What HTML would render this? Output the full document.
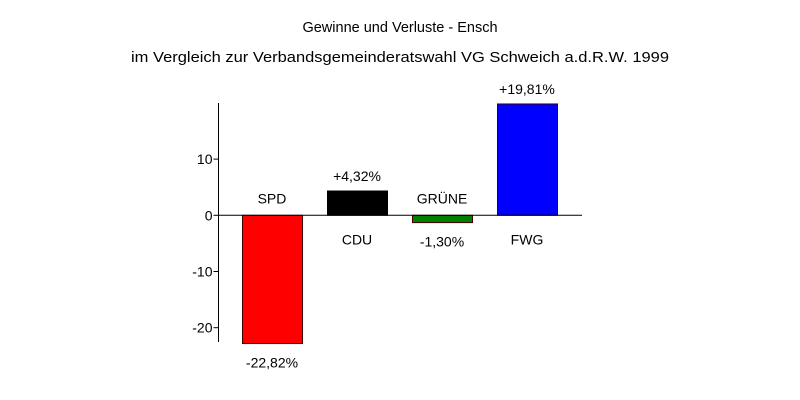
<!DOCTYPE html>
<html><head><meta charset="utf-8"><style>
html,body{margin:0;padding:0;background:#fff;}
svg{display:block;font-family:"Liberation Sans",Arial,sans-serif;}
</style></head><body>
<svg id="chart" width="800" height="400" viewBox="0 0 800 400">
<text x="400" y="32" text-anchor="middle" font-size="14.5">Gewinne und Verluste - Ensch</text>
<text x="400" y="62" text-anchor="middle" font-size="15" textLength="538" lengthAdjust="spacingAndGlyphs">im Vergleich zur Verbandsgemeinderatswahl VG Schweich a.d.R.W. 1999</text>
<g id="plot"></g>
</svg>
<script>
const categories = ["SPD","CDU","GRÜNE","FWG"];
const values = [-22.82, 4.32, -1.30, 19.81];
const valueLabels = ["-22,82%","+4,32%","-1,30%","+19,81%"];
const colors = ["#ff0000","#000000","#008000","#0000ff"];
const yTicks = [10, 0, -10, -20];

const NS="http://www.w3.org/2000/svg";
const g=document.getElementById('plot');
const zeroY=215.3, ppu=5.62, axisX=218.5, x0=242, step=85, bw=60;
function y(v){return zeroY - v*ppu;}
function mk(t,a){const e=document.createElementNS(NS,t);for(const k in a)e.setAttribute(k,a[k]);g.appendChild(e);return e;}

let e=mk('line',{x1:axisX,y1:103,x2:axisX,y2:342,stroke:'#000','stroke-width':1});


yTicks.forEach(t=>{
  let l=mk('line',{x1:axisX-5,y1:y(t),x2:axisX,y2:y(t),stroke:'#000'});
  
  
  let tx=mk('text',{x:axisX-6,y:y(t)+5,'text-anchor':'end','font-size':14});
  tx.textContent=String(t);
  
  
});
categories.forEach((c,i)=>{
  const v=values[i], bx=x0+i*step, top=Math.min(y(v),zeroY), h=Math.abs(y(v)-zeroY);
  let r=mk('rect',{x:bx+0.5,y:top,width:bw,height:h,fill:colors[i],stroke:i==1?'#000':'#400000','stroke-width':1});
  
  
  const cx=bx+bw/2;
  let nameY, valY;
  if(v>=0){ valY=y(v)-10; nameY=zeroY+29; }
  else { nameY=zeroY-12; valY=y(v)+24; }
  let n=mk('text',{x:cx,y:nameY,'text-anchor':'middle','font-size':14});
  n.textContent=c;
  
  
  let vl=mk('text',{x:cx,y:valY,'text-anchor':'middle','font-size':14});
  vl.textContent=valueLabels[i];
  
  
});
e=mk('line',{x1:axisX,y1:zeroY,x2:582,y2:zeroY,stroke:'#000','stroke-width':1});


</script>
</body></html>
